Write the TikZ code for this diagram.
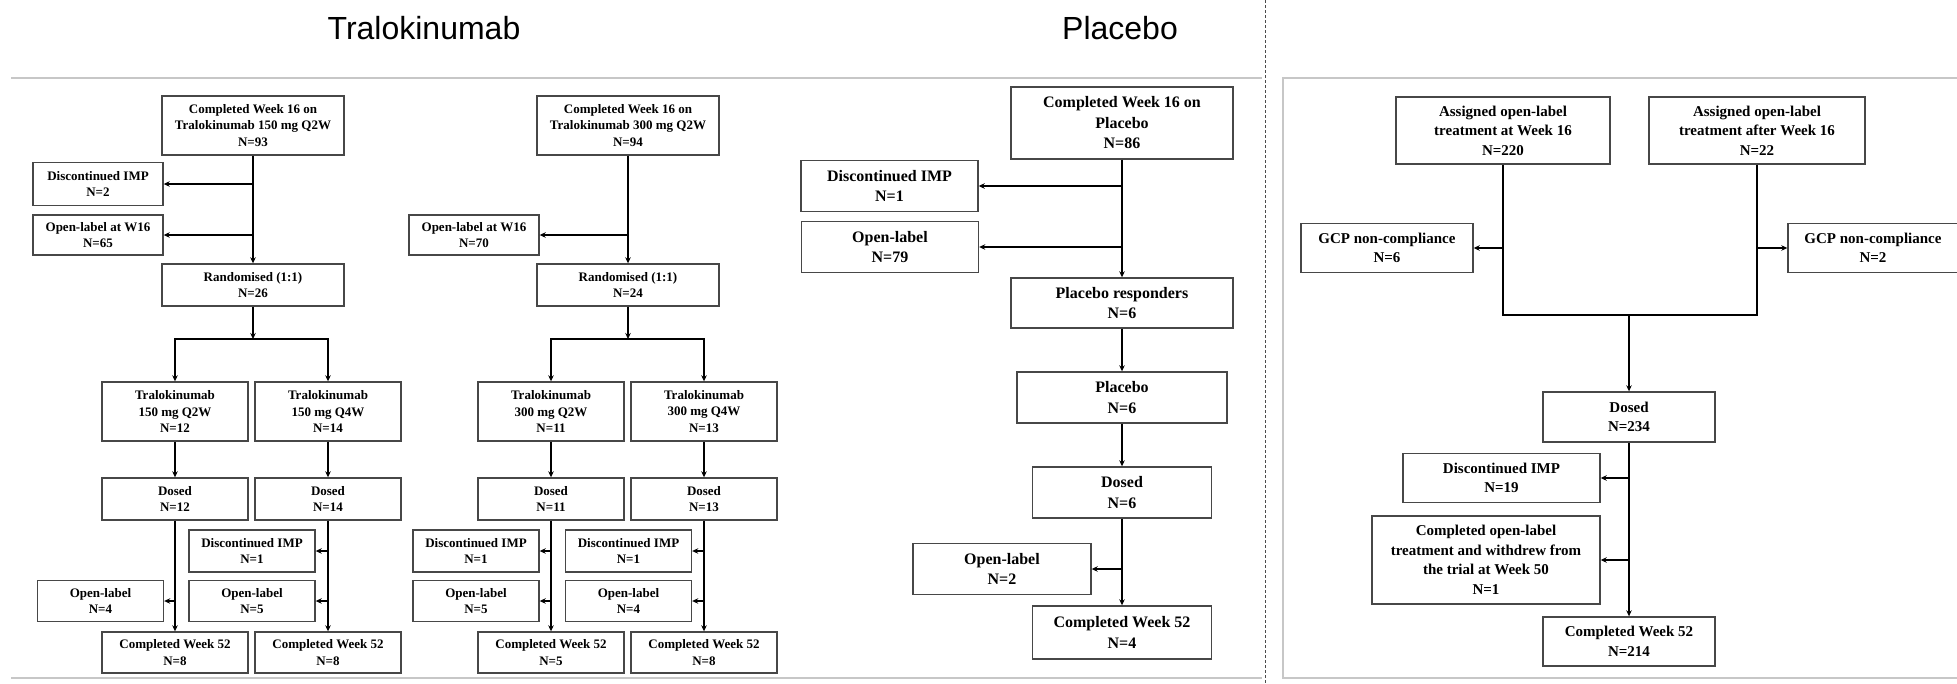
\documentclass[tikz,border=0pt]{standalone}
\usepackage{fontspec}
\setmainfont{Liberation Serif}
\newfontfamily\titlefont{Liberation Sans}
\usetikzlibrary{arrows.meta,positioning}

\begin{document}
\begin{tikzpicture}[x=1pt,y=-1pt,>={Stealth[length=6pt,width=5.5pt]},line width=1.6pt]
    \tikzstyle{boxT}=[rectangle, draw=black!72, line width=1.4pt, align=center, inner sep=1pt, minimum width=146pt, minimum height=42pt, font=\fontsize{13}{16.5}\selectfont\bfseries]
    \tikzstyle{sideT}=[boxT, minimum width=126pt]
    \tikzstyle{boxP}=[boxT, minimum width=178pt, minimum height=51pt, font=\fontsize{16}{20.5}\selectfont\bfseries]
    \tikzstyle{boxR}=[boxT, minimum width=172pt, minimum height=49pt, font=\fontsize{15}{19.5}\selectfont\bfseries]
    \tikzstyle{panel}=[draw=black!22, line width=1.4pt]
    \tikzstyle{title}=[font=\titlefont\fontsize{32}{36}\selectfont]

    \useasboundingbox (0,0) rectangle (1957,683);

    \node[title] (ttral) at (424,28) {Tralokinumab};
    \node[title] (tplac) at (1120,28) {Placebo};
    \draw[panel] (11,78) -- (1262,78);
    \draw[panel] (11,678) -- (1262,678);
    \draw[panel] (1957,78) -- (1283,78) -- (1283,678) -- (1957,678);
    \draw[black!70, line width=1pt, dash pattern=on 3pt off 2pt] (1265,0) -- (1265,683);

    % Tralokinumab 150 mg
    \node[boxT, minimum width=182pt, minimum height=59pt] (a0) at (253,125.5) {Completed Week 16 on\\Tralokinumab 150 mg Q2W\\N=93};
    \node[boxT, minimum width=130pt, minimum height=43pt] (a1) at (98,184) {Discontinued IMP\\N=2};
    \node[boxT, minimum width=130pt, minimum height=40pt] (a2) at (98,235) {Open-label at W16\\N=65};
    \node[boxT, minimum width=182pt] (a3) at (253,285) {Randomised (1:1)\\N=26};
    \node[boxT, minimum height=59pt] (a4) at (175,411.5) {Tralokinumab\\150 mg Q2W\\N=12};
    \node[boxT, minimum height=59pt] (a5) at (328,411.5) {Tralokinumab\\150 mg Q4W\\N=14};
    \node[boxT] (a6) at (175,499) {Dosed\\N=12};
    \node[boxT] (a7) at (328,499) {Dosed\\N=14};
    \node[sideT] (a8) at (252,551) {Discontinued IMP\\N=1};
    \node[sideT, minimum height=41pt] (a9) at (252,601) {Open-label\\N=5};
    \node[sideT, minimum height=41pt] (a10) at (100.5,601) {Open-label\\N=4};
    \node[boxT, minimum height=41pt] (a11) at (175,652.5) {Completed Week 52\\N=8};
    \node[boxT, minimum height=41pt] (a12) at (328,652.5) {Completed Week 52\\N=8};
    \coordinate (asp) at (253,339);
    \draw[->] (a0) -- (a3);
    \draw[->] (a0 |- a1) -- (a1);
    \draw[->] (a0 |- a2) -- (a2);
    \draw[->] (a3) -- (asp);
    \draw[->] (asp) -| (a4);
    \draw[->] (asp) -| (a5);
    \draw[->] (a4) -- (a6);
    \draw[->] (a5) -- (a7);
    \draw[->] (a6) -- (a11);
    \draw[->] (a7) -- (a12);
    \draw[->] (a6 |- a10) -- (a10);
    \draw[->] (a7 |- a8) -- (a8);
    \draw[->] (a7 |- a9) -- (a9);

    % Tralokinumab 300 mg
    \node[boxT, minimum width=182pt, minimum height=59pt] (b0) at (628,125.5) {Completed Week 16 on\\Tralokinumab 300 mg Q2W\\N=94};
    \node[boxT, minimum width=130pt, minimum height=40pt] (b2) at (474,235) {Open-label at W16\\N=70};
    \node[boxT, minimum width=182pt] (b3) at (628,285) {Randomised (1:1)\\N=24};
    \node[boxT, minimum height=59pt] (b4) at (551,411.5) {Tralokinumab\\300 mg Q2W\\N=11};
    \node[boxT, minimum height=59pt] (b5) at (704,411.5) {Tralokinumab\\300 mg Q4W\\N=13};
    \node[boxT] (b6) at (551,499) {Dosed\\N=11};
    \node[boxT] (b7) at (704,499) {Dosed\\N=13};
    \node[sideT] (b8) at (476,551) {Discontinued IMP\\N=1};
    \node[sideT, minimum height=41pt] (b9) at (476,601) {Open-label\\N=5};
    \node[sideT] (b10) at (628.5,551) {Discontinued IMP\\N=1};
    \node[sideT, minimum height=41pt] (b11) at (628.5,601) {Open-label\\N=4};
    \node[boxT, minimum height=41pt] (b12) at (551,652.5) {Completed Week 52\\N=5};
    \node[boxT, minimum height=41pt] (b13) at (704,652.5) {Completed Week 52\\N=8};
    \coordinate (bsp) at (628,339);
    \draw[->] (b0) -- (b3);
    \draw[->] (b0 |- b2) -- (b2);
    \draw[->] (b3) -- (bsp);
    \draw[->] (bsp) -| (b4);
    \draw[->] (bsp) -| (b5);
    \draw[->] (b4) -- (b6);
    \draw[->] (b5) -- (b7);
    \draw[->] (b6) -- (b12);
    \draw[->] (b7) -- (b13);
    \draw[->] (b6 |- b8) -- (b8);
    \draw[->] (b6 |- b9) -- (b9);
    \draw[->] (b7 |- b10) -- (b10);
    \draw[->] (b7 |- b11) -- (b11);

    % Placebo
    \node[boxP, minimum width=222pt, minimum height=72pt] (c0) at (1122,123) {Completed Week 16 on\\Placebo\\N=86};
    \node[boxP, minimum width=177pt] (c1) at (889.5,186) {Discontinued IMP\\N=1};
    \node[boxP, minimum width=177pt] (c2) at (890,247) {Open-label\\N=79};
    \node[boxP, minimum width=222pt, minimum height=50pt] (c3) at (1122,303) {Placebo responders\\N=6};
    \node[boxP, minimum width=210pt] (c4) at (1122,397.5) {Placebo\\N=6};
    \node[boxP, minimum width=179pt] (c5) at (1122,492.5) {Dosed\\N=6};
    \node[boxP] (c6) at (1002,569) {Open-label\\N=2};
    \node[boxP, minimum width=179pt, minimum height=53pt] (c7) at (1122,632.5) {Completed Week 52\\N=4};
    \draw[->] (c0) -- (c3);
    \draw[->] (c0 |- c1) -- (c1);
    \draw[->] (c0 |- c2) -- (c2);
    \draw[->] (c3) -- (c4);
    \draw[->] (c4) -- (c5);
    \draw[->] (c5) -- (c7);
    \draw[->] (c5 |- c6) -- (c6);

    % open-label
    \node[boxR, minimum width=214pt, minimum height=67pt] (d0) at (1503,130.5) {Assigned open-label\\treatment at Week 16\\N=220};
    \node[boxR, minimum width=216pt, minimum height=67pt] (d1) at (1757,130.5) {Assigned open-label\\treatment after Week 16\\N=22};
    \node[boxR] (d2) at (1387,248) {GCP non-compliance\\N=6};
    \node[boxR, minimum width=170pt] (d3) at (1873,248) {GCP non-compliance\\N=2};
    \node[boxR, minimum height=50pt] (d4) at (1629,417) {Dosed\\N=234};
    \node[boxR, minimum width=197pt] (d5) at (1501.5,478) {Discontinued IMP\\N=19};
    \node[boxR, minimum width=228pt, minimum height=88pt] (d6) at (1486,560) {Completed open-label\\treatment and withdrew from\\the trial at Week 50\\N=1};
    \node[boxR] (d7) at (1629,641.5) {Completed Week 52\\N=214};
    \coordinate (dj) at (1629,315);
    \draw (d0) |- (dj);
    \draw (d1) |- (dj);
    \draw[->] (dj) -- (d4);
    \draw[->] (d0 |- d2) -- (d2);
    \draw[->] (d1 |- d3) -- (d3);
    \draw[->] (d4) -- (d7);
    \draw[->] (d4 |- d5) -- (d5);
    \draw[->] (d4 |- d6) -- (d6);
\end{tikzpicture}
\end{document}
